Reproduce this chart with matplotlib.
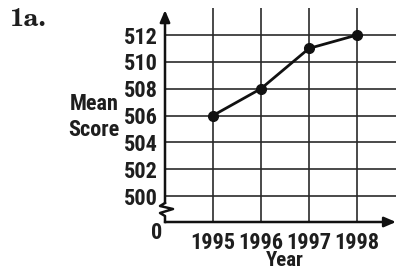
import matplotlib.pyplot as plt
from matplotlib import font_manager

years = [1995, 1996, 1997, 1998]
scores = [506, 508, 511, 512]
y_ticks = [500, 502, 504, 506, 508, 510, 512]

W, H = 396, 271
DPI = 100


def pick(candidates):
    names = {f.name for f in font_manager.fontManager.ttflist}
    for c in candidates:
        if c in names:
            return c
    return "DejaVu Sans"


cond = pick(["Roboto Condensed", "Archivo Narrow", "Fira Sans Condensed",
             "Barlow Condensed", "IBM Plex Sans Condensed"])
serif = pick(["TeX Gyre Schola", "C059", "Century Schoolbook L",
              "New Century Schoolbook", "DejaVu Serif"])
ink = "#1e1e1e"
FS = 16
tfont = dict(fontfamily=cond, fontweight="bold", fontsize=FS, color=ink)

fig = plt.figure(figsize=(W / DPI, H / DPI), dpi=DPI)
# plot box in pixels: x 165..396, y 8..222 (from top)
ax = fig.add_axes([165 / W, (H - 222) / H, 231 / W, 214 / H])
ax.set_xlim(1994, 1994 + 231 / 48)
ax.set_ylim(500 - 26 * 12 / 161, 512 + 27 * 12 / 161)

ax.set_xticks(years)
ax.set_yticks(y_ticks)
ax.grid(True, color="#2a2a2a", lw=1.2)
ax.set_axisbelow(True)
ax.tick_params(length=0)
ax.tick_params(axis="y", pad=5)
ax.tick_params(axis="x", pad=7)
for lab in ax.get_xticklabels() + ax.get_yticklabels():
    lab.set_fontfamily(cond)
    lab.set_fontweight("bold")
    lab.set_fontsize(FS)
    lab.set_color(ink)

for s in ax.spines.values():
    s.set_visible(False)

ax.plot(years, scores, color="#111111", lw=2, marker="o", ms=7,
        clip_on=False, zorder=5)

# axes with arrows, and the break mark on the y axis
k = "#111111"
arrow = dict(arrowstyle="-|>,head_length=0.7,head_width=0.3",
             color=k, lw=1.8, shrinkA=0, shrinkB=0)
ax.annotate("", xy=(1, 0), xytext=(0, 0), xycoords="axes fraction",
            arrowprops=arrow)
ax.annotate("", xy=(0, 0.99), xytext=(0, 19 / 214), xycoords="axes fraction",
            arrowprops=arrow)
zx = [0, -5 / 231, 8 / 231, -5 / 231, 0, 0]
zy = [19 / 214, 16 / 214, 13 / 214, 9 / 214, 6 / 214, 0]
ax.plot(zx, zy, color=k, lw=1.8, transform=ax.transAxes, clip_on=False)

fig.text(285 / W, 1 - 261 / H, "Year", ha="center", va="center",
         fontfamily=cond, fontweight="bold", fontsize=15, color=ink)
fig.text(94 / W, 1 - 117 / H, "Mean\nScore", ha="center", va="center",
         linespacing=1.25, **tfont)
fig.text(157 / W, 1 - 233 / H, "0", ha="center", va="center", **tfont)
fig.text(10 / W, 1 - 20 / H, "1a.", ha="left", va="center",
         fontfamily=serif, fontweight="bold", fontsize=18, color=ink)

fig.savefig("out.png", dpi=DPI)
